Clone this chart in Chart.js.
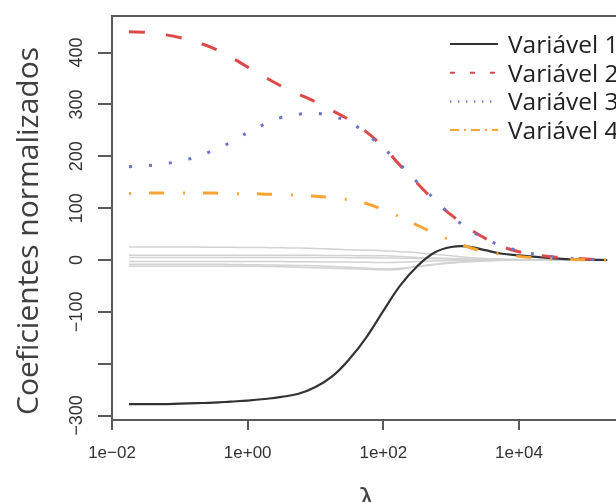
<!DOCTYPE html>
<html>
<head>
<meta charset="utf-8">
<script src="https://cdn.jsdelivr.net/npm/chart.js@4/dist/chart.umd.min.js"></script>
<style>
  html, body { margin: 0; padding: 0; background: #fff; overflow: hidden; }
  #wrap { width: 640px; height: 502px; }
</style>
</head>
<body>
<div id="wrap"><canvas id="c" width="640" height="502"></canvas></div>
<script>
// Ridge penalty values (lambda) at which the coefficient paths are sampled
const lambdas = [0.0178, 0.0316, 0.0562, 0.1, 0.178, 0.316, 0.562, 1, 1.78, 3.16, 5.62,
  10, 17.8, 31.6, 56.2, 100, 178, 316, 562, 1000, 1778, 3162, 5623, 10000, 17783,
  31623, 56234, 100000, 199526];

// Normalised coefficients of the four highlighted variables
const coefVar1 = [-278, -278, -278, -277, -276, -275, -273, -271, -268, -264, -258,
  -245, -224, -191, -149, -98, -49, -12, 14, 25, 26, 19, 12, 9, 6, 3, 1.5, 0.5, 0];
const coefVar2 = [440, 439, 435, 429, 420, 408, 391, 372, 353, 335, 320,
  305, 288, 270, 247, 218, 182, 148, 115, 87, 62, 42, 26, 16, 10, 6, 4, 2, 0];
const coefVar3 = [180, 182, 185, 191, 199, 212, 227, 246, 262, 275, 281,
  283, 277, 266, 243, 216, 184, 150, 118, 86, 60, 41, 27, 18, 11, 6, 3, 1.5, 0];
const coefVar4 = [128, 129, 129, 129, 129, 129, 128, 128, 127, 126, 125,
  123, 120, 116, 109, 97, 83, 67, 52, 38, 25, 16, 11, 7, 4, 2, 1, 0.5, 0];

// Remaining variables (drawn in light grey, not in the legend)
const coefVar5 = [25, 25, 25, 25, 25, 24.5, 24.5, 24, 24, 23.5, 23,
  22, 21, 20, 19, 18, 16, 14, 11, 8, 5, 3, 2, 1, 0.5, 0, 0, 0, 0];
const coefVar6 = [9, 9, 9, 9, 9, 9, 9, 9, 9, 9, 9,
  9, 8.5, 8.5, 8, 8, 7, 5, 4, 3, 2, 1, 0.5, 0, 0, 0, 0, 0, 0];
const coefVar7 = [5, 5, 5, 5, 5, 5, 5, 5, 5, 5, 5,
  5, 5, 4.5, 4.5, 4, 3.5, 3, 2.5, 2, 1, 0.5, 0, 0, 0, 0, 0, 0, 0];
const coefVar8 = [-3, -3, -3, -3, -3, -3, -3, -3, -3, -3, -3.5,
  -3.5, -4, -4, -4.5, -5, -4.5, -3, -2, -1, -0.5, 0, 0, 0, 0, 0, 0, 0, 0];
const coefVar9 = [-8, -8, -8, -8, -8, -8, -8.5, -9, -9.5, -10, -10.5,
  -11, -12.5, -14, -15.5, -17, -16, -13, -9, -6, -3.5, -2, -1, 0, 0, 0, 0, 0, 0];
const coefVar10 = [-12, -12, -12, -12, -12, -12, -12, -12, -12.5, -13, -14,
  -15, -16, -17, -18, -19, -18, -12, -8, -5, -3, -1, -0.5, 0, 0, 0, 0, 0, 0];

const seriesNames = ['Variável 1', 'Variável 2', 'Variável 3', 'Variável 4'];

const xTickValues = [0.01, 1, 100, 10000];
const xTickLabels = ['1e\u221202', '1e+00', '1e+02', '1e+04'];
const yTickValues = [-300, -200, -100, 0, 100, 200, 300, 400];
const yTickLabels = ['\u2212300', '', '\u2212100', '0', '100', '200', '300', '400'];

const toPoints = arr => lambdas.map((x, i) => ({ x, y: arr[i] }));

const grey = arr => ({
  data: toPoints(arr), borderColor: '#d2d2d2', borderWidth: 1.5,
  pointRadius: 0, order: 10, legendDash: null
});

const datasets = [
  { label: seriesNames[0], data: toPoints(coefVar1), borderColor: '#333333', borderWidth: 2.2,
    borderDash: [], pointRadius: 0, order: 4, legendDash: [] },
  { label: seriesNames[1], data: toPoints(coefVar2), borderColor: '#de4a4a', borderWidth: 3,
    borderDash: [16, 21], pointRadius: 0, order: 3, legendDash: [5, 15] },
  { label: seriesNames[2], data: toPoints(coefVar3), borderColor: '#6b74cc', borderWidth: 3,
    borderDash: [3, 17], pointRadius: 0, order: 2, legendDash: [1.5, 6.5] },
  { label: seriesNames[3], data: toPoints(coefVar4), borderColor: '#f6a436', borderWidth: 3,
    borderDash: [2, 18, 15, 19], pointRadius: 0, order: 1, legendDash: [9, 5, 2, 5] },
  grey(coefVar5), grey(coefVar6), grey(coefVar7), grey(coefVar8), grey(coefVar9), grey(coefVar10)
];

// Box, tick labels, axis titles and legend
const decorations = {
  id: 'decorations',
  afterDraw(chart) {
    const { ctx, chartArea: a, scales: { x, y } } = chart;
    ctx.save();
    ctx.strokeStyle = '#5a5a5a';
    ctx.lineWidth = 2;
    ctx.setLineDash([]);
    ctx.strokeRect(a.left, a.top, a.right - a.left, a.bottom - a.top);

    ctx.fillStyle = '#333';
    ctx.font = '17px "Liberation Sans", Arial, sans-serif';
    ctx.textAlign = 'center';
    ctx.textBaseline = 'alphabetic';
    xTickValues.forEach((v, i) => ctx.fillText(xTickLabels[i], x.getPixelForValue(v), 458));

    ctx.font = '18px "Liberation Sans", Arial, sans-serif';
    yTickValues.forEach((v, i) => {
      if (!yTickLabels[i]) return;
      ctx.save();
      ctx.translate(82, y.getPixelForValue(v));
      ctx.rotate(-Math.PI / 2);
      ctx.fillText(yTickLabels[i], 0, 0);
      ctx.restore();
    });

    ctx.fillStyle = '#404040';
    ctx.font = '30px "Open Sans", sans-serif';
    ctx.save();
    ctx.translate(38, 231);
    ctx.rotate(-Math.PI / 2);
    ctx.fillText('Coeficientes normalizados', 0, 0);
    ctx.restore();
    ctx.fillText('\u03bb', 367, 509);

    // legend
    ctx.textAlign = 'left';
    ctx.font = '24.5px "Open Sans", sans-serif';
    chart.data.datasets.slice(0, 4).forEach((ds, i) => {
      const rowY = 44 + i * 28.7;
      ctx.strokeStyle = ds.borderColor;
      ctx.lineWidth = 2;
      ctx.setLineDash(ds.legendDash);
      ctx.beginPath();
      ctx.moveTo(450, rowY);
      ctx.lineTo(498, rowY);
      ctx.stroke();
      ctx.setLineDash([]);
      ctx.fillStyle = '#222';
      ctx.fillText(ds.label, 508, rowY + 9);
    });
    ctx.restore();
  }
};

new Chart(document.getElementById('c'), {
  type: 'line',
  data: { datasets },
  options: {
    responsive: false,
    animation: false,
    events: [],
    layout: { padding: { top: 16, right: 5.7, left: 0, bottom: 0 } },
    elements: { line: { tension: 0.4, borderCapStyle: 'butt' } },
    plugins: { legend: { display: false }, tooltip: { enabled: false } },
    scales: {
      x: {
        type: 'logarithmic',
        min: 0.01,
        max: Math.pow(10, 5.7),
        afterBuildTicks: s => { s.ticks = xTickValues.map(v => ({ value: v })); },
        afterFit: s => { s.height = 82; },
        ticks: { display: false },
        grid: { drawOnChartArea: false, drawTicks: true, tickLength: 10, color: '#5a5a5a', lineWidth: 2 },
        border: { display: true, color: '#5a5a5a', width: 2 }
      },
      y: {
        type: 'linear',
        min: -308.5,
        max: 470.5,
        afterBuildTicks: s => { s.ticks = yTickValues.map(v => ({ value: v })); },
        afterFit: s => { s.width = 112; },
        ticks: { display: false },
        grid: { drawOnChartArea: false, drawTicks: true, tickLength: 14, color: '#5a5a5a', lineWidth: 2 },
        border: { display: true, color: '#5a5a5a', width: 2 }
      }
    }
  },
  plugins: [decorations]
});
</script>
</body>
</html>
